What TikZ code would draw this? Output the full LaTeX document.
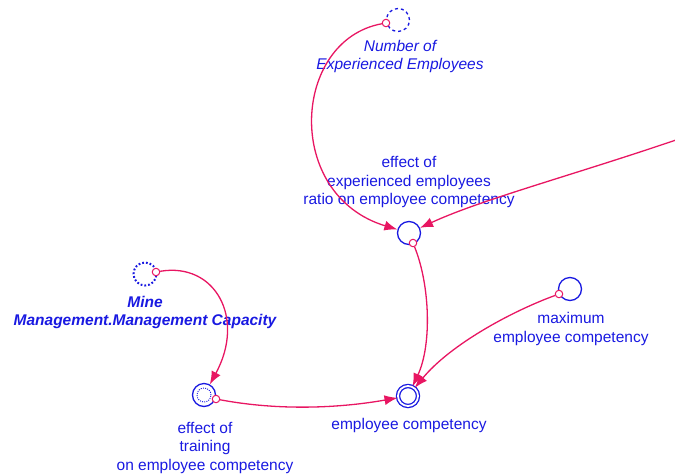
\documentclass[tikz,border=0pt]{standalone}
\usepackage{fontspec}
\setmainfont{Liberation Sans}
\usepackage{tikz}
\usetikzlibrary{arrows.meta, positioning, calc}
\definecolor{stockblue}{RGB}{25,25,225}
\definecolor{linkpink}{RGB}{232,22,98}

\begin{document}
\begin{tikzpicture}[x=1pt, y=-1pt,
  stock/.style={circle, draw=stockblue, line width=1.3pt, minimum size=23pt, inner sep=0pt},
  pin/.style={circle, draw=linkpink, fill=white, line width=1pt, minimum size=7.5pt, inner sep=0pt},
  link/.style={draw=linkpink, line width=1.3pt, -{Latex[length=13pt, width=10pt]}},
  lbl/.style={text=stockblue, align=center, font=\fontsize{15.5}{18.5}\selectfont}]
  \useasboundingbox (0,0) rectangle (675,475);
  % variables
  \node[stock, dashed] (nexp) at (398,20) {};
  \node[stock] (ee) at (409,233) {};
  \node[stock, double, double distance=1.8pt, minimum size=20pt] (emp) at (408,396) {};
  \node[stock] (maxc) at (570,289) {};
  \node[stock, line width=2pt, dash pattern=on 1.8pt off 2pt] (mine) at (145,274) {};
  \node[stock] (tr) at (204,395) {};
  \node[circle, draw=stockblue, line width=0.9pt, dash pattern=on 1pt off 1.2pt, minimum size=14pt, inner sep=0pt] (trIn) at (tr) {};
  % labels
  \node[lbl, font=\fontsize{15.5}{18.5}\selectfont\itshape] (nexpL) at (400,56.5) {Number of\\Experienced Employees};
  \node[lbl] (eeL) at (409,182) {effect of\\experienced employees\\ratio on employee competency};
  \node[lbl] (empL) at (409,425) {employee competency};
  \node[lbl] (maxcL) at (571,329) {maximum\\employee competency};
  \node[lbl, font=\fontsize{15.5}{18.5}\selectfont\bfseries\itshape] (mineL) at (145,312.5) {Mine\\Management.Management Capacity};
  \node[lbl] (trL) at (205,447.5) {effect of\\training\\on employee competency};
  % connector origins
  \node[pin] (nexpP) at (386,23) {};
  \node[pin] (eeP) at (413,243) {};
  \node[pin] (maxcP) at (559,294) {};
  \node[pin] (mineP) at (156,272) {};
  \node[pin] (trP) at (216,399) {};
  % connectors
  \coordinate (offR) at (676,140);
  \draw[link] (offR) .. controls (570,176) and (480,200) .. (ee);
  \draw[link] (nexpP) .. controls (292,40) and (283,195) .. (ee);
  \draw[link] (eeP) .. controls (430,285) and (432,345) .. (emp);
  \draw[link] (maxcP) .. controls (510,312) and (450,345) .. (emp);
  \draw[link] (mineP) .. controls (215,262) and (246,318) .. (tr);
  \draw[link] (trP) .. controls (280,411) and (340,408) .. (emp);
\end{tikzpicture}
\end{document}
